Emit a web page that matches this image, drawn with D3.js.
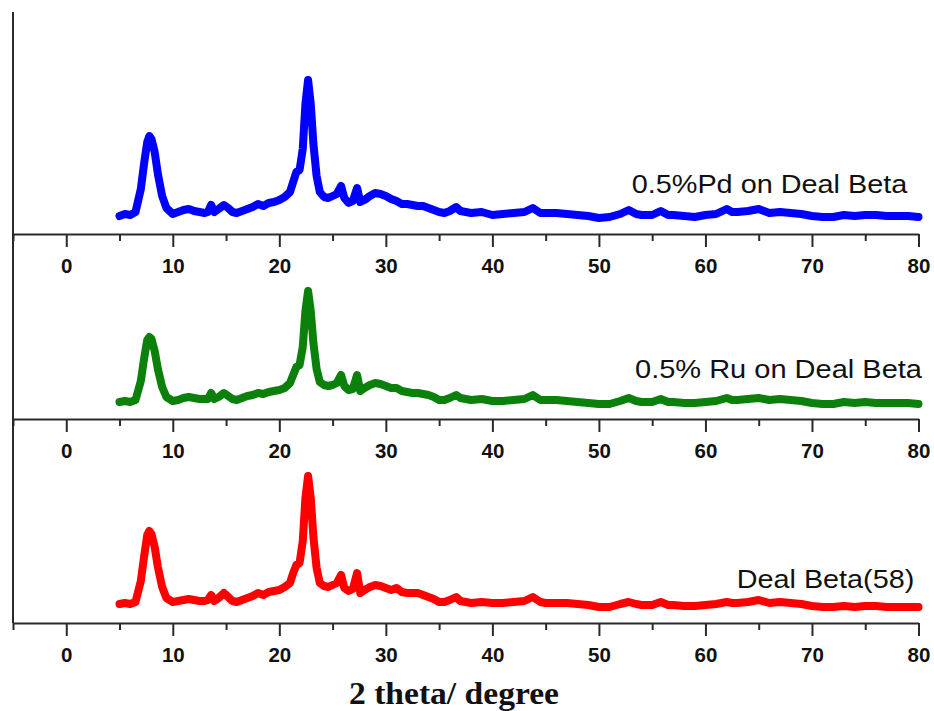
<!DOCTYPE html>
<html>
<head>
<meta charset="utf-8">
<script src="https://cdn.jsdelivr.net/npm/d3@7"></script>
<style>
  html, body { margin: 0; padding: 0; background: #fff; }
  svg { display: block; }
</style>
</head>
<body>
<svg id="chart" width="934" height="711"></svg>
<script>
// ---- data ----
const twoTheta = [
  5, 5.5, 6, 6.5, 7, 7.3, 7.6, 7.8, 8.0, 8.3,
  8.6, 9.0, 9.4, 10, 10.5, 11, 11.5, 12, 12.5, 13,
  13.3, 13.6, 13.9, 14.3, 14.8, 15.2, 15.6, 16, 16.5, 17,
  17.5, 18, 18.5, 19, 19.5, 20, 20.5, 21, 21.3, 21.6,
  21.9, 22.2, 22.45, 22.7, 22.95, 23.2, 23.5, 23.8, 24.2, 24.6,
  25, 25.4, 25.8, 26.1, 26.5, 26.9, 27.3, 27.6, 28, 28.5,
  29, 29.5, 30, 30.5, 31, 31.5, 32, 32.5, 33, 33.5,
  34, 34.5, 35, 35.5, 36, 36.6, 37, 37.5, 38, 39,
  40, 41, 42, 43, 43.8, 44.5, 45, 46, 47, 48,
  49, 50, 51, 52, 52.8, 53.5, 54, 55, 55.8, 56.5,
  57, 58, 59, 60, 61, 62, 62.5, 63, 64, 65,
  66, 67, 68, 69, 70, 71, 72, 73, 74, 75,
  76, 77, 78, 79, 80
];

const pdIntensity = [
  18, 20, 19, 22, 45, 70, 92, 98, 95, 82,
  60, 38, 26, 20, 22, 24, 25, 23, 22, 21,
  22, 29, 22, 25, 29, 26, 22, 21, 23, 25,
  27, 30, 28, 31, 32, 34, 37, 42, 52, 62,
  64, 85, 130, 154, 130, 90, 58, 42, 37, 36,
  38, 40, 48, 36, 31, 33, 46, 32, 34, 38,
  41, 40, 38, 35, 33, 30, 30, 29, 28, 28,
  26, 24, 22, 21, 23, 27, 23, 22, 21, 22,
  19, 20, 21, 22, 26, 21, 21, 21, 20, 19,
  18, 16, 17, 20, 24, 20, 19, 19, 23, 19,
  19, 18, 17, 19, 20, 25, 22, 22, 23, 25,
  21, 22, 21, 20, 18, 17, 17, 19, 18, 19,
  19, 18, 18, 18, 17
];

const ruIntensity = [
  17, 18, 17, 19, 38, 60, 79, 82, 80, 68,
  50, 32, 22, 18, 19, 21, 22, 21, 20, 20,
  20, 26, 20, 22, 26, 23, 20, 19, 21, 23,
  24, 26, 25, 27, 28, 29, 31, 36, 44, 52,
  54, 72, 108, 128, 108, 76, 50, 37, 34, 33,
  34, 36, 44, 33, 29, 30, 44, 28, 31, 34,
  36, 35, 33, 31, 31, 28, 27, 26, 26, 25,
  24, 22, 19, 19, 21, 24, 21, 20, 19, 20,
  18, 18, 19, 20, 24, 19, 19, 19, 18, 17,
  16, 15, 15, 18, 21, 18, 17, 17, 20, 17,
  17, 16, 16, 17, 18, 21, 19, 19, 20, 21,
  19, 20, 19, 18, 16, 15, 15, 17, 16, 17,
  16, 16, 16, 16, 15
];

const betaIntensity = [
  19, 20, 19, 21, 42, 66, 88, 92, 89, 76,
  56, 36, 25, 21, 22, 23, 24, 23, 22, 22,
  23, 28, 22, 25, 30, 26, 22, 21, 23, 25,
  27, 30, 28, 31, 32, 33, 36, 40, 50, 58,
  60, 82, 125, 147, 125, 86, 55, 40, 37, 36,
  38, 40, 48, 35, 32, 34, 50, 30, 33, 36,
  38, 37, 35, 33, 35, 31, 30, 30, 30, 28,
  26, 24, 21, 21, 23, 26, 22, 21, 20, 21,
  20, 20, 21, 22, 26, 21, 20, 20, 20, 19,
  18, 16, 16, 19, 21, 19, 18, 18, 21, 18,
  18, 17, 17, 18, 19, 21, 20, 20, 21, 23,
  20, 21, 20, 19, 17, 16, 16, 17, 16, 17,
  17, 16, 16, 16, 16
];

const seriesNames = ["0.5%Pd on Deal Beta", "0.5% Ru on Deal Beta", "Deal Beta(58)"];
const seriesColors = ["#0000ff", "#0b800b", "#ff0000"];
const majorTicks = [0, 10, 20, 30, 40, 50, 60, 70, 80];
const minorTicks = [-5, 5, 15, 25, 35, 45, 55, 65, 75];
const xTitle = "2 theta/ degree";

// ---- layout ----
const svg = d3.select("#chart");
const x = d3.scaleLinear().domain([-5, 80]).range([13, 918.5]);
const panelAxisY = [234, 419, 623];
const labelPos = [
  { x: 631.7, w: 275.6, y: 193.3 },
  { x: 635, w: 287, y: 378.3 },
  { x: 736.7, w: 177.6, y: 588.3 }
];
const seriesValues = [pdIntensity, ruIntensity, betaIntensity];

svg.append("rect").attr("width", 934).attr("height", 711).attr("fill", "#fff");

// vertical axis line spanning all panels
svg.append("line")
  .attr("x1", x(-5)).attr("x2", x(-5))
  .attr("y1", 12).attr("y2", panelAxisY[2])
  .attr("stroke", "#2a2a2a").attr("stroke-width", 2);

panelAxisY.forEach((ay, i) => {
  const y = d3.scaleLinear().domain([0, 200]).range([ay, ay - 200]);
  const g = svg.append("g");

  // trace
  const pts = twoTheta.map((t, k) => [t, seriesValues[i][k]]);
  g.append("path")
    .datum(pts)
    .attr("fill", "none")
    .attr("stroke", seriesColors[i])
    .attr("stroke-width", 8)
    .attr("stroke-linejoin", "round")
    .attr("stroke-linecap", "round")
    .attr("d", d3.line().x(d => x(d[0])).y(d => y(d[1])));

  // minor ticks
  const minorAxis = d3.axisBottom(x).tickValues(minorTicks).tickSize(7).tickSizeOuter(0).tickFormat("");
  const gm = g.append("g").attr("transform", `translate(0,${ay})`).call(minorAxis);
  gm.select(".domain").remove();
  gm.selectAll(".tick line").attr("stroke", "#2a2a2a").attr("stroke-width", 2);

  // major axis
  const majorAxis = d3.axisBottom(x).tickValues(majorTicks).tickSize(13).tickSizeOuter(0).tickPadding(11).tickFormat(d3.format("d"));
  const ga = g.append("g").attr("transform", `translate(0,${ay})`).call(majorAxis);
  ga.select(".domain").attr("stroke", "#2a2a2a").attr("stroke-width", 2);
  ga.selectAll(".tick line").attr("stroke", "#2a2a2a").attr("stroke-width", 2);
  ga.selectAll(".tick text")
    .attr("fill", "#111")
    .style("font-family", "Arial, 'Liberation Sans', sans-serif")
    .style("font-weight", "bold")
    .style("font-size", "20.5px");

  // series label
  const lp = labelPos[i];
  g.append("text")
    .attr("x", lp.x).attr("y", lp.y)
    .attr("textLength", lp.w)
    .attr("lengthAdjust", "spacingAndGlyphs")
    .attr("fill", "#111")
    .style("font-family", "Arial, 'Liberation Sans', sans-serif")
    .style("font-size", "25px")
    .text(seriesNames[i]);
});

// x title
svg.append("text")
  .attr("x", 349).attr("y", 704)
  .attr("textLength", 210)
  .attr("lengthAdjust", "spacingAndGlyphs")
  .attr("fill", "#111")
  .style("font-family", "'Times New Roman', 'Liberation Serif', serif")
  .style("font-weight", "bold")
  .style("font-size", "32px")
  .text(xTitle);
</script>
</body>
</html>
